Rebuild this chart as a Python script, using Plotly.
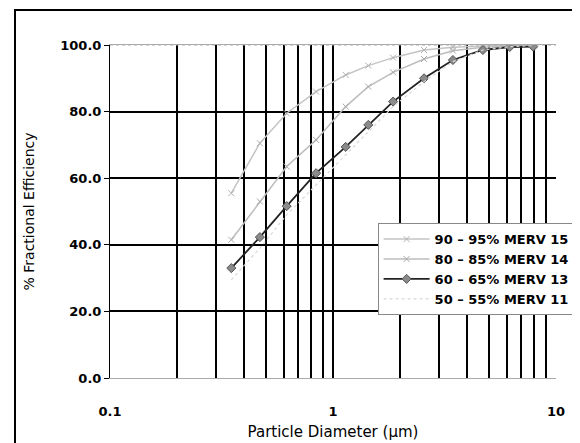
import plotly.graph_objects as go

diameters = [0.35, 0.47, 0.62, 0.84, 1.14, 1.44, 1.86, 2.56, 3.45, 4.7, 6.2, 7.9]
merv15 = [55.5, 70.5, 79.5, 86.0, 91.0, 93.8, 96.2, 98.5, 99.3, 99.7, 100.0, 100.0]
merv14 = [41.5, 53.0, 63.5, 71.5, 81.5, 87.5, 91.8, 95.8, 98.3, 99.3, 99.7, 100.0]
merv13 = [33.0, 42.3, 51.6, 61.5, 69.4, 76.0, 83.0, 90.0, 95.5, 98.5, 99.4, 99.5]
merv11 = [29.5, 39.0, 49.0, 58.0, 67.0, 74.0, 81.5, 89.0, 95.0, 98.5, 99.5, 99.8]

series_names = ["90 – 95% MERV 15", "80 – 85% MERV 14", "60 – 65% MERV 13", "50 – 55% MERV 11"]

x_major = [0.1, 1, 10]
x_major_text = ["0.1", "1", "10"]
x_minor = [0.2, 0.3, 0.4, 0.5, 0.6, 0.7, 0.8, 0.9, 1, 2, 3, 4, 5, 6, 7, 8, 9]
y_ticks = [0, 20, 40, 60, 80, 100]
y_tick_text = ["0.0", "20.0", "40.0", "60.0", "80.0", "100.0"]
y_grid = [20, 40, 60, 80]

FONT = "DejaVu Sans, Liberation Sans, Arial, sans-serif"

fig = go.Figure()
fig.add_trace(go.Scatter(x=diameters, y=merv15, name=series_names[0], mode="lines+markers",
                         line=dict(color="#c4c4c4", width=1.5),
                         marker=dict(symbol="x-thin", size=6, line=dict(color="#b0b0b0", width=1))))
fig.add_trace(go.Scatter(x=diameters, y=merv14, name=series_names[1], mode="lines+markers",
                         line=dict(color="#bdbdbd", width=1.5),
                         marker=dict(symbol="x-thin", size=6, line=dict(color="#a8a8a8", width=1))))
fig.add_trace(go.Scatter(x=diameters, y=merv13, name=series_names[2], mode="lines+markers",
                         line=dict(color="#222222", width=1.8),
                         marker=dict(symbol="diamond", size=7, color="#8a8a8a",
                                     line=dict(color="#555555", width=1))))
fig.add_trace(go.Scatter(x=diameters, y=merv11, name=series_names[3], mode="lines",
                         line=dict(color="#d8d8d8", width=1.2, dash="dot")))

fig.update_layout(
    width=572, height=435,
    margin=dict(l=102, r=24, t=37, b=65, autoexpand=False),
    paper_bgcolor="white", plot_bgcolor="white",
    font=dict(family=FONT, color="black"),
    showlegend=True,
    legend=dict(x=0.6, y=0.465, xanchor="left", yanchor="top",
                bgcolor="white", bordercolor="#888888", borderwidth=1,
                font=dict(size=13, weight="bold"), tracegroupgap=0, itemwidth=46),
    xaxis=dict(type="log", range=[-1, 1], tickvals=x_major, ticktext=x_major_text,
               showgrid=False, ticks="", ticklabelstandoff=21, automargin=False,
               tickfont=dict(size=13, weight="bold"),
               showline=True, linecolor="#aaaaaa", linewidth=1, mirror=True,
               minor=dict(tickvals=x_minor, showgrid=True, gridcolor="black", gridwidth=2, ticks=""),
               title=dict(text="Particle Diameter (μm)", font=dict(size=15), standoff=8)),
    yaxis=dict(range=[0, 100], tickvals=y_ticks, ticktext=y_tick_text,
               showgrid=False, ticks="outside", ticklen=5, tickcolor="black",
               tickfont=dict(size=13, weight="bold"), automargin=False,
               showline=True, linecolor="black", linewidth=1,
               minor=dict(tickvals=y_grid, showgrid=True, gridcolor="black", gridwidth=2, ticks=""),
               title=dict(text="% Fractional Efficiency", font=dict(size=14), standoff=22)),
    shapes=[
        dict(type="line", xref="paper", yref="paper", x0=0, x1=1, y0=1, y1=1,
             line=dict(color="#aaaaaa", width=1, dash="dot")),
        dict(type="rect", xref="paper", yref="paper", x0=-0.213, x1=1.043, y0=-0.25, y1=1.105,
             line=dict(color="black", width=2)),
    ],
)

fig.write_html("out.html")
